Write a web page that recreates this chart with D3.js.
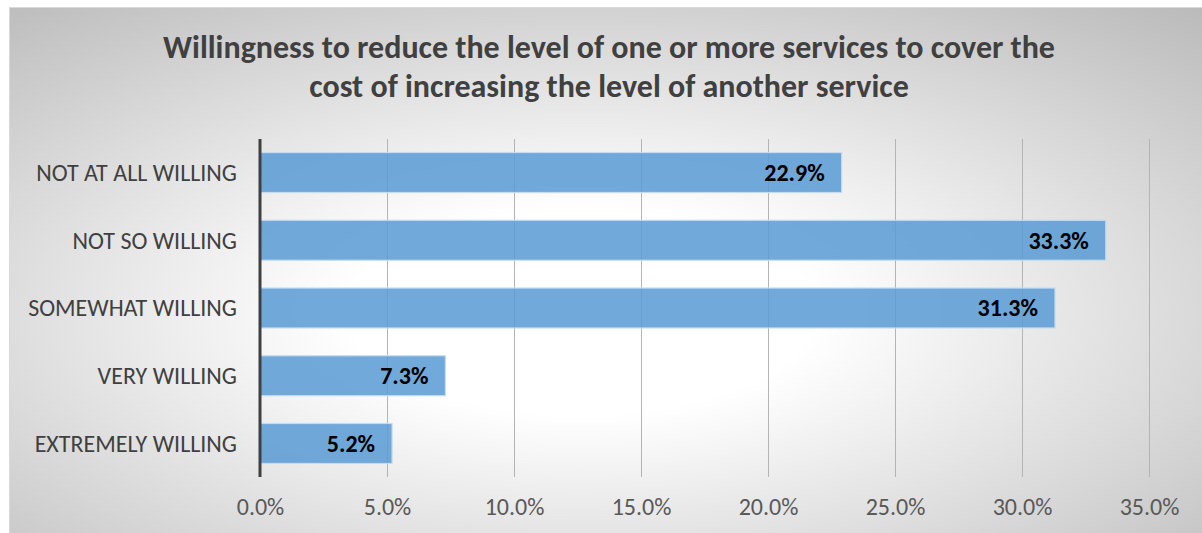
<!DOCTYPE html>
<html>
<head>
<meta charset="utf-8">
<script src="https://cdn.jsdelivr.net/npm/d3@7/dist/d3.min.js"></script>
<style>
  html, body { margin: 0; padding: 0; background: #ffffff; }
  svg { display: block; }
</style>
</head>
<body>
<svg id="chart" width="1202" height="533"></svg>
<script>
// Survey responses: willingness to trade one service level for another
const categories = ["NOT AT ALL WILLING", "NOT SO WILLING", "SOMEWHAT WILLING", "VERY WILLING", "EXTREMELY WILLING"];
const shares = [0.229, 0.333, 0.313, 0.073, 0.052];
const tickValues = [0, 0.05, 0.10, 0.15, 0.20, 0.25, 0.30, 0.35];
const titleLines = [
  "Willingness to reduce the level of one or more services to cover the",
  "cost of increasing the level of another service"
];

const FONT = "Carlito, Lato, 'Open Sans', sans-serif";
const svg = d3.select("#chart");
const W = 1202, H = 533;

// Chart area background with a soft radial shading
const defs = svg.append("defs");
const grad = defs.append("radialGradient")
  .attr("id", "bg")
  .attr("cx", "0.48").attr("cy", "0.58").attr("r", "0.78")
  .attr("fx", "0.48").attr("fy", "0.58");
grad.append("stop").attr("offset", "0").attr("stop-color", "#ffffff");
grad.append("stop").attr("offset", "0.25").attr("stop-color", "#ffffff");
grad.append("stop").attr("offset", "1").attr("stop-color", "#bababa");

svg.append("rect")
  .attr("x", 9.5).attr("y", 7.5)
  .attr("width", W - 9).attr("height", H - 7)
  .attr("fill", "url(#bg)")
  .attr("stroke", "#d9d9d9").attr("stroke-width", 1);

// Title
const title = svg.append("text")
  .attr("text-anchor", "middle")
  .attr("font-family", FONT)
  .attr("font-weight", "bold")
  .attr("font-size", 32)
  .attr("fill", "#404040");
titleLines.forEach((line, i) => {
  title.append("tspan").attr("x", 609).attr("y", 58 + i * 38.5).text(line);
});

// Scales
const x = d3.scaleLinear().domain([0, 0.35]).range([260, 1149]);
const y = d3.scaleBand().domain(categories).range([139, 477])
  .paddingInner(0.41).paddingOuter(0.2);

// Vertical gridlines
svg.append("g")
  .selectAll("line")
  .data(tickValues.slice(1))
  .join("line")
  .attr("x1", d => Math.round(x(d)) + 0.5)
  .attr("x2", d => Math.round(x(d)) + 0.5)
  .attr("y1", 139).attr("y2", 477)
  .attr("stroke", "#b4b4b4").attr("stroke-width", 1);

// Bars
const rows = categories.map((c, i) => ({ cat: c, v: shares[i] }));
svg.append("g")
  .selectAll("rect")
  .data(rows)
  .join("rect")
  .attr("x", x(0))
  .attr("y", d => y(d.cat))
  .attr("width", d => x(d.v) - x(0))
  .attr("height", y.bandwidth())
  .attr("fill", "#5b9bd5").attr("fill-opacity", 0.86)
  .attr("stroke", "#c5dcf0").attr("stroke-width", 1.2);

// Value labels inside bar ends
svg.append("g")
  .selectAll("text")
  .data(rows)
  .join("text")
  .attr("x", d => x(d.v) - 17)
  .attr("y", d => y(d.cat) + y.bandwidth() / 2)
  .attr("dy", "0.35em")
  .attr("text-anchor", "end")
  .attr("font-family", FONT)
  .attr("font-weight", "bold")
  .attr("font-size", 24)
  .attr("fill", "#000000")
  .text(d => d3.format(".1%")(d.v));

// Category axis
const yAxis = svg.append("g")
  .attr("transform", `translate(${x(0)},0)`)
  .call(d3.axisLeft(y).tickSize(0).tickPadding(23));
yAxis.select(".domain").remove();
yAxis.selectAll("text")
  .attr("font-family", FONT)
  .attr("font-size", 24)
  .attr("fill", "#404040")
  .attr("dy", "0.35em");

svg.append("line")
  .attr("x1", x(0)).attr("x2", x(0))
  .attr("y1", 139).attr("y2", 477)
  .attr("stroke", "#404040").attr("stroke-width", 3);

// Value axis
const xAxis = svg.append("g")
  .attr("transform", "translate(0,477)")
  .call(d3.axisBottom(x).tickValues(tickValues).tickFormat(d3.format(".1%")).tickSize(0).tickPadding(0));
xAxis.select(".domain").remove();
xAxis.selectAll("text")
  .attr("font-family", FONT)
  .attr("font-size", 24)
  .attr("fill", "#595959")
  .attr("y", 38)
  .attr("dy", 0);
</script>
</body>
</html>
